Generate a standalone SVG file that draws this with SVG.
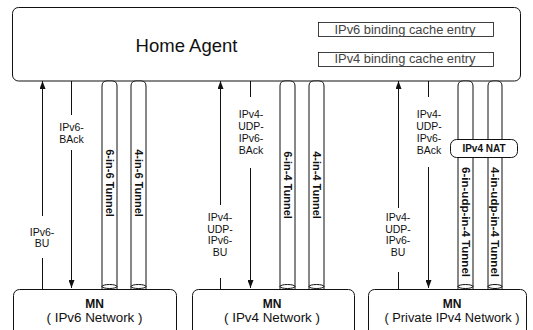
<svg xmlns="http://www.w3.org/2000/svg" width="533" height="330" viewBox="0 0 533 330">
<style>
.box{fill:#fff;stroke:#111;stroke-width:1}
.ln{fill:none;stroke:#111;stroke-width:1}
.t{font-family:"Liberation Sans",Arial,sans-serif;fill:#111;text-anchor:middle}
.lab{font-size:10.5px}
.mn{font-size:12px}
.tun{font-size:11px;font-weight:bold}
.bc{font-size:12px;fill:#444}
</style>
<defs>
<marker id="ah" markerUnits="userSpaceOnUse" viewBox="0 0 8 6" refX="8" refY="3" markerWidth="8" markerHeight="6" orient="auto">
<path d="M0,0 L8,3 L0,6 z" fill="#111"/>
</marker>
</defs>
<rect width="533" height="330" fill="#fff"/>

<g id="home-agent">
<rect class="box" x="12.5" y="7.5" width="508" height="73.5" rx="6"/>
<text class="t" x="186.5" y="52" font-size="18.5">Home Agent</text>
<rect class="box" x="318.5" y="22.5" width="175" height="14" style="stroke-width:0.8"/>
<text class="t bc" x="405" y="33.5" textLength="141" lengthAdjust="spacingAndGlyphs">IPv6 binding cache entry</text>
<rect class="box" x="318.5" y="52.5" width="175" height="14" style="stroke-width:0.8"/>
<text class="t bc" x="405" y="63" textLength="141" lengthAdjust="spacingAndGlyphs">IPv4 binding cache entry</text>
</g>

<g id="connectors">
<!-- left -->
<line class="ln" x1="42.5" y1="289" x2="42.5" y2="258"/>
<line class="ln" x1="42.5" y1="216" x2="42.5" y2="81" marker-end="url(#ah)"/>
<line class="ln" x1="71.5" y1="81" x2="71.5" y2="115"/>
<line class="ln" x1="71.5" y1="150" x2="71.5" y2="288" marker-end="url(#ah)"/>
<!-- middle -->
<line class="ln" x1="220.5" y1="289" x2="220.5" y2="278"/>
<line class="ln" x1="220.5" y1="205" x2="220.5" y2="81" marker-end="url(#ah)"/>
<line class="ln" x1="250.5" y1="81" x2="250.5" y2="97"/>
<line class="ln" x1="250.5" y1="168" x2="250.5" y2="288" marker-end="url(#ah)"/>
<!-- right -->
<line class="ln" x1="398.5" y1="289" x2="398.5" y2="272"/>
<line class="ln" x1="398.5" y1="208" x2="398.5" y2="81" marker-end="url(#ah)"/>
<line class="ln" x1="428.5" y1="81" x2="428.5" y2="97"/>
<line class="ln" x1="428.5" y1="167" x2="428.5" y2="288" marker-end="url(#ah)"/>
</g>

<g id="labels">
<text class="t lab" x="71.5" y="131">IPv6-</text>
<text class="t lab" x="71.5" y="142.5">BAck</text>
<text class="t lab" x="42" y="236">IPv6-</text>
<text class="t lab" x="42" y="246.5">BU</text>

<text class="t lab" x="251" y="118">IPv4-</text>
<text class="t lab" x="251" y="130">UDP-</text>
<text class="t lab" x="251" y="142">IPv6-</text>
<text class="t lab" x="251" y="154">BAck</text>
<text class="t lab" x="220" y="221">IPv4-</text>
<text class="t lab" x="220" y="232.5">UDP-</text>
<text class="t lab" x="220" y="244">IPv6-</text>
<text class="t lab" x="220" y="255.5">BU</text>

<text class="t lab" x="429" y="118">IPv4-</text>
<text class="t lab" x="429" y="130">UDP-</text>
<text class="t lab" x="429" y="142">IPv6-</text>
<text class="t lab" x="429" y="154">BAck</text>
<text class="t lab" x="398" y="221">IPv4-</text>
<text class="t lab" x="398" y="232.5">UDP-</text>
<text class="t lab" x="398" y="244">IPv6-</text>
<text class="t lab" x="398" y="255.5">BU</text>
</g>

<g id="tunnel-6in6">
<path class="box" d="M102,289 L102,86 Q102,81 107,81 L112,81 Q117,81 117,86 L117,289"/>
<ellipse class="ln" cx="109.5" cy="286.5" rx="7.5" ry="2"/>
<text class="t tun" transform="translate(109.5,183) rotate(90)" y="4">6-in-6 Tunnel</text>
</g>
<g id="tunnel-4in6">
<path class="box" d="M131,289 L131,86 Q131,81 136,81 L141,81 Q146,81 146,86 L146,289"/>
<ellipse class="ln" cx="138.5" cy="286.5" rx="7.5" ry="2"/>
<text class="t tun" transform="translate(138.5,183) rotate(90)" y="4">4-in-6 Tunnel</text>
</g>
<g id="tunnel-6in4">
<path class="box" d="M280,289 L280,86 Q280,81 285,81 L290,81 Q295,81 295,86 L295,289"/>
<ellipse class="ln" cx="287.5" cy="286.5" rx="7.5" ry="2"/>
<text class="t tun" transform="translate(287.5,185) rotate(90)" y="4">6-in-4 Tunnel</text>
</g>
<g id="tunnel-4in4">
<path class="box" d="M309,289 L309,86 Q309,81 314,81 L319,81 Q324,81 324,86 L324,289"/>
<ellipse class="ln" cx="316.5" cy="286.5" rx="7.5" ry="2"/>
<text class="t tun" transform="translate(316.5,185) rotate(90)" y="4">4-in-4 Tunnel</text>
</g>
<g id="tunnel-6inudpin4">
<path class="box" d="M458,289 L458,86 Q458,81 463,81 L468,81 Q473,81 473,86 L473,289"/>
<ellipse class="ln" cx="465.5" cy="286.5" rx="7.5" ry="2"/>
<text class="t tun" transform="translate(465.5,222) rotate(90)" y="4" textLength="110" lengthAdjust="spacingAndGlyphs">6-in-udp-in-4 Tunnel</text>
</g>
<g id="tunnel-4inudpin4">
<path class="box" d="M488,289 L488,86 Q488,81 493,81 L497,81 Q502,81 502,86 L502,289"/>
<ellipse class="ln" cx="495" cy="286.5" rx="7" ry="2"/>
<text class="t tun" transform="translate(495,222) rotate(90)" y="4" textLength="110" lengthAdjust="spacingAndGlyphs">4-in-udp-in-4 Tunnel</text>
</g>

<g id="ipv4-nat">
<rect class="box" x="450.5" y="139.5" width="67" height="18" rx="6"/>
<text class="t" x="484" y="152" font-size="10px" font-weight="bold">IPv4 NAT</text>
</g>

<g id="mn-ipv6">
<rect class="box" x="13.5" y="289.5" width="163" height="50" rx="6"/>
<text class="t mn" x="94.5" y="308" font-weight="bold">MN</text>
<text class="t mn" x="94.5" y="322" textLength="96" lengthAdjust="spacingAndGlyphs">( IPv6 Network )</text>
</g>
<g id="mn-ipv4">
<rect class="box" x="192.5" y="289.5" width="162" height="50" rx="6"/>
<text class="t mn" x="272" y="308" font-weight="bold">MN</text>
<text class="t mn" x="272" y="322" textLength="96" lengthAdjust="spacingAndGlyphs">( IPv4 Network )</text>
</g>
<g id="mn-private-ipv4">
<rect class="box" x="368.5" y="289.5" width="158" height="50" rx="6"/>
<text class="t mn" x="452" y="308" font-weight="bold">MN</text>
<text class="t mn" x="452" y="322" textLength="135" lengthAdjust="spacingAndGlyphs">( Private IPv4 Network )</text>
</g>
</svg>
